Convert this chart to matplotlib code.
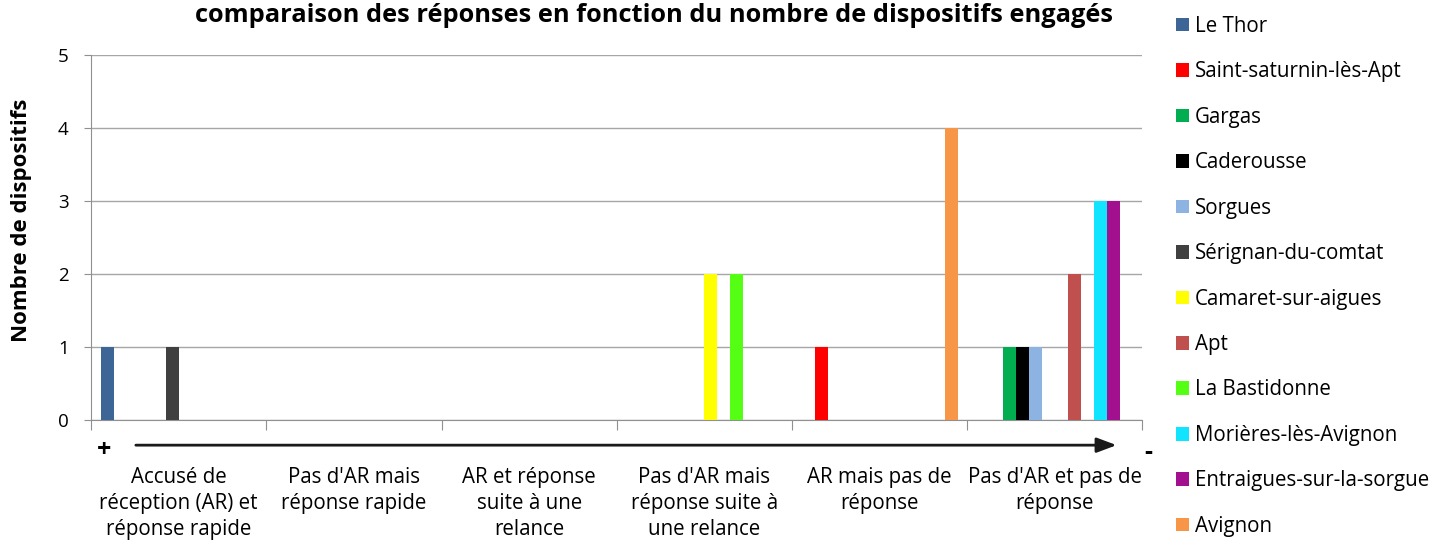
import numpy as np
import matplotlib.pyplot as plt
from matplotlib.patches import Patch

plt.rcParams['font.family'] = ['Open Sans', 'DejaVu Sans']

categories = [
    "Accusé de\nréception (AR) et\nréponse rapide",
    "Pas d'AR mais\nréponse rapide",
    "AR et réponse\nsuite à une\nrelance",
    "Pas d'AR mais\nréponse suite à\nune relance",
    "AR mais pas de\nréponse",
    "Pas d'AR et pas de\nréponse",
]

communes = [
    "Le Thor", "Saint-saturnin-lès-Apt", "Gargas", "Caderousse", "Sorgues",
    "Sérignan-du-comtat", "Camaret-sur-aigues", "Apt", "La Bastidonne",
    "Morières-lès-Avignon", "Entraigues-sur-la-sorgue", "Avignon",
]

le_thor = [1, 0, 0, 0, 0, 0]
saint_saturnin = [0, 0, 0, 0, 1, 0]
gargas = [0, 0, 0, 0, 0, 1]
caderousse = [0, 0, 0, 0, 0, 1]
sorgues = [0, 0, 0, 0, 0, 1]
serignan = [1, 0, 0, 0, 0, 0]
camaret = [0, 0, 0, 2, 0, 0]
apt = [0, 0, 0, 0, 0, 2]
bastidonne = [0, 0, 0, 2, 0, 0]
morieres = [0, 0, 0, 0, 0, 3]
entraigues = [0, 0, 0, 0, 0, 3]
avignon = [0, 0, 0, 0, 4, 0]

series = [le_thor, saint_saturnin, gargas, caderousse, sorgues, serignan,
          camaret, apt, bastidonne, morieres, entraigues, avignon]

colors = ["#3D6696", "#FF0000", "#00AD50", "#000000", "#8DB3E2", "#404040",
          "#FFFF00", "#C0504D", "#55FF14", "#10E4FF", "#A20F8F", "#F79646"]

fig = plt.figure(figsize=(14.4, 5.41), dpi=100)
ax = fig.add_axes([0.0632, 0.2237, 0.7302, 0.6746])

n = len(series)
w = 1 / (n + 1.5)
x = np.arange(len(categories))
for i, (vals, col) in enumerate(zip(series, colors)):
    ax.bar(x + (i - (n - 1) / 2) * w, vals, width=w, color=col, zorder=3)

ax.set_xlim(-0.5, len(categories) - 0.5)
ax.set_ylim(0, 5)
ax.set_yticks(range(6))
ax.yaxis.grid(True, color="#A6A6A6", linewidth=1, zorder=0)
for s in ["top", "right"]:
    ax.spines[s].set_visible(False)
for s in ["left", "bottom"]:
    ax.spines[s].set_color("#909090")
ax.tick_params(axis="y", length=5, color="#909090", labelsize=13.5, pad=11)

# category boundaries as ticks, names centered below each group
ax.set_xticks(np.arange(-0.5, len(categories)), labels=[""] * (len(categories) + 1))
ax.tick_params(axis="x", which="major", length=7, color="#909090", direction="out")
ax.set_xticks(x, labels=categories, minor=True)
ax.tick_params(axis="x", which="minor", length=0, pad=34, labelsize=14.8)
for lbl in ax.get_xticklabels(minor=True):
    lbl.set_linespacing(1.3)

ax.set_ylabel("Nombre de dispositifs", fontsize=16, fontweight="bold")
ax.yaxis.set_label_coords(-0.056, 0.548)
fig.text(654 / 1440, 1 - 15 / 541,
         "comparaison des réponses en fonction du nombre de dispositifs engagés",
         fontsize=18.3, fontweight="bold", ha="center", va="center")

# direction arrow from best (+) to worst (-) response
ax.annotate("", xy=(0.978, -0.069), xytext=(0.04, -0.069), xycoords="axes fraction",
            arrowprops=dict(arrowstyle="-|>,head_length=1.2,head_width=0.45",
                            color="#1a1a1a", lw=2), annotation_clip=False)
ax.text(0.012, -0.085, "+", transform=ax.transAxes, fontsize=18, fontweight="bold",
        ha="center", va="center")
ax.text(1.005, -0.088, "-", transform=ax.transAxes, fontsize=18, fontweight="bold",
        ha="center", va="center")

handles = [Patch(facecolor=c) for c in colors]
fig.legend(handles, communes, loc="upper left", bbox_to_anchor=(0.804, 1.005),
           frameon=False, fontsize=14.8, handlelength=0.64, handleheight=0.64,
           handletextpad=0.28, labelspacing=1.19)

fig.savefig("out.png", dpi=100)
